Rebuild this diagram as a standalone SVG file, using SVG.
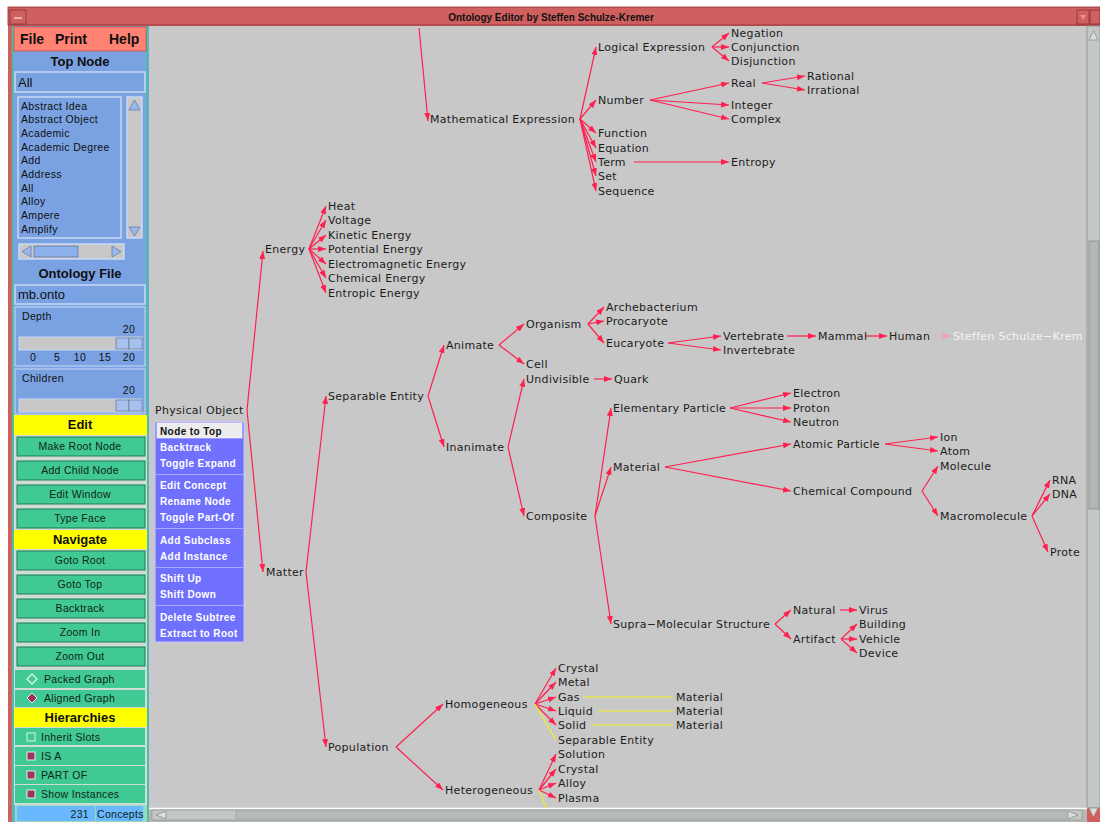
<svg xmlns="http://www.w3.org/2000/svg" width="1100" height="822" viewBox="0 0 1100 822">
  <defs>
    <style>
      .n { font-family: "DejaVu Sans", "Liberation Sans", sans-serif; font-size: 11px; fill: #1c1c1c; letter-spacing: 0.3px; }
      .nw { font-family: "DejaVu Sans", "Liberation Sans", sans-serif; font-size: 11px; fill: #f4f4f4; letter-spacing: 0.3px; }
      .e { stroke: #ff2050; stroke-width: 1.2; fill: none; marker-end: url(#ah); }
      .ef { stroke: #f0a0b4; stroke-width: 1.2; fill: none; stroke-dasharray: 2 1.5; marker-end: url(#ahf); }
      .y { stroke: #f0f020; stroke-width: 1.2; fill: none; }
      .ui { font-family: "Liberation Sans", Arial, sans-serif; fill: #101010; }
      .hd { font-family: "Liberation Sans", Arial, sans-serif; font-weight: bold; font-size: 13px; fill: #101010; text-anchor: middle; }
      .btn { fill: #40c992; stroke: #1f7a55; stroke-width: 1; }
      .bt { font-family: "Liberation Sans", Arial, sans-serif; font-size: 10.5px; fill: #102418; text-anchor: middle; letter-spacing: 0.3px; }
      .bl { font-family: "Liberation Sans", Arial, sans-serif; font-size: 10.5px; fill: #102418; letter-spacing: 0.3px; }
      .li { font-family: "Liberation Sans", Arial, sans-serif; font-size: 10.5px; fill: #101010; letter-spacing: 0.35px; }
      .pm { font-family: "Liberation Sans", Arial, sans-serif; font-size: 10px; font-weight: bold; fill: #ffffff; letter-spacing: 0.4px; }
      .fld { fill: #7aa2e2; stroke: #c8d8f4; stroke-width: 1.5; }
      .sep { stroke: #a8a8ff; stroke-width: 1; }
    </style>
    <marker id="ah" viewBox="0 0 8 6" refX="8" refY="3" markerWidth="8" markerHeight="6" markerUnits="userSpaceOnUse" orient="auto">
      <path d="M0,0 L8,3 L0,6 z" fill="#ff2050"/>
    </marker>
    <marker id="ahf" viewBox="0 0 8 6" refX="8" refY="3" markerWidth="8" markerHeight="6" markerUnits="userSpaceOnUse" orient="auto">
      <path d="M0,0 L8,3 L0,6 z" fill="#f0a0b4"/>
    </marker>
  </defs>

  <!-- window frame -->
  <rect x="0" y="0" width="1100" height="822" fill="#ffffff"/>
  <rect x="8" y="7" width="1092" height="815" fill="#d25e5e"/>
  <rect x="8" y="7" width="1092" height="18" fill="#d06060" stroke="#8a3030" stroke-width="0.8"/>
  <rect x="10" y="10" width="16" height="14" fill="#d06060" stroke="#8a3030" stroke-width="0.8"/>
  <line x1="14" y1="18" x2="22" y2="18" stroke="#ffffff" stroke-width="1"/>
  <rect x="1077" y="10" width="12" height="14" fill="#d06060" stroke="#8a3030" stroke-width="0.8"/>
  <path d="M1080,15 L1086,15 L1083,20 z" fill="#e89090"/>
  <rect x="1090" y="10" width="10" height="14" fill="#d06060" stroke="#8a3030" stroke-width="0.8"/>
  <text x="551" y="20.5" text-anchor="middle" style="font-family:'Liberation Sans',Arial,sans-serif;font-size:10px;font-weight:bold;fill:#101010">Ontology Editor by Steffen Schulze-Kremer</text>

  <!-- canvas -->
  <rect x="149" y="26" width="938" height="782" fill="#c8c8c8"/>

  <!-- right scrollbar -->
  <rect x="1087" y="26" width="13" height="782" fill="#c4c8c4" stroke="#8c908c" stroke-width="0.8"/>
  <path d="M1089,40 L1093.5,31 L1098,40 z" fill="#dcdedc" stroke="#8c908c" stroke-width="0.8"/>
  <rect x="1089" y="241" width="10" height="268" fill="#b4b8b4" stroke="#8c908c" stroke-width="0.8"/>
  <path d="M1089,808 L1093.5,817 L1098,808 z" fill="#dcdedc" stroke="#8c908c" stroke-width="0.8"/>

  <!-- bottom scrollbar -->
  <rect x="149" y="808" width="938" height="14" fill="#b4b8b4"/>
  <line x1="149" y1="808.5" x2="1087" y2="808.5" stroke="#ffffff" stroke-width="1.5"/>
  <rect x="152" y="810" width="930" height="10" fill="#c4c8c4" stroke="#8c908c" stroke-width="0.6"/>
  <path d="M166,811 L156,815 L166,819 z" fill="#dcdedc" stroke="#8c908c" stroke-width="0.8"/>
  <rect x="236" y="811" width="830" height="8" fill="#b8bcb8" stroke="#9ca09c" stroke-width="0.6"/>
  <path d="M1068,811 L1078,815 L1068,819 z" fill="#dcdedc" stroke="#8c908c" stroke-width="0.8"/>

  <!-- control panel -->
  <g id="panel">
    <rect x="12" y="26" width="137" height="796" fill="#7aa2e2"/>
    <line x1="12.5" y1="26" x2="12.5" y2="822" stroke="#38c890" stroke-width="1.5"/>
    <line x1="147.5" y1="26" x2="147.5" y2="822" stroke="#38c890" stroke-width="1.5"/>

    <g id="menubar">
      <rect x="14" y="27" width="132" height="24" fill="#ff8272" stroke="#c85048" stroke-width="0.8"/>
      <text class="ui" x="20" y="44" style="font-size:14px;font-weight:bold">File</text>
      <text class="ui" x="55" y="44" style="font-size:14px;font-weight:bold">Print</text>
      <text class="ui" x="109" y="44" style="font-size:14px;font-weight:bold">Help</text>
    </g>

    <text class="hd" x="80" y="66">Top Node</text>
    <rect class="fld" x="15" y="72" width="130" height="20"/>
    <text class="ui" x="18" y="87" style="font-size:13px">All</text>

    <g id="concept-list">
      <rect x="18" y="97" width="103" height="141" fill="#7aa2e2" stroke="#c8d8f4" stroke-width="1.5"/>
      <text class="li" x="21" y="109.5">Abstract Idea</text>
      <text class="li" x="21" y="123">Abstract Object</text>
      <text class="li" x="21" y="136.5">Academic</text>
      <text class="li" x="21" y="150.5">Academic Degree</text>
      <text class="li" x="21" y="164">Add</text>
      <text class="li" x="21" y="177.5">Address</text>
      <text class="li" x="21" y="191.5">All</text>
      <text class="li" x="21" y="205">Alloy</text>
      <text class="li" x="21" y="218.5">Ampere</text>
      <text class="li" x="21" y="232.5">Amplify</text>
      <rect x="127" y="97" width="15" height="141" fill="#c8c8c8" stroke="#c8d8f4" stroke-width="1.5"/>
      <path d="M129,110 L134.5,100 L140,110 z" fill="#9ab8ee" stroke="#506890" stroke-width="0.6"/>
      <path d="M129,227 L134.5,236 L140,227 z" fill="#9ab8ee" stroke="#506890" stroke-width="0.6"/>
      <rect x="19" y="244" width="105" height="15" fill="#c8c8c8" stroke="#c8d8f4" stroke-width="1.5"/>
      <path d="M31,246 L22,251.5 L31,257 z" fill="#9ab8ee" stroke="#506890" stroke-width="0.6"/>
      <rect x="34" y="246" width="44" height="11" fill="#8cb0ea" stroke="#506890" stroke-width="0.6"/>
      <path d="M112,246 L121,251.5 L112,257 z" fill="#9ab8ee" stroke="#506890" stroke-width="0.6"/>
    </g>

    <text class="hd" x="80" y="278">Ontology File</text>
    <rect class="fld" x="15" y="285" width="130" height="19"/>
    <text class="ui" x="18" y="299" style="font-size:13px">mb.onto</text>

    <g id="depth">
      <rect x="15" y="307" width="130" height="59" fill="#7aa2e2" stroke="#c8d8f4" stroke-width="1"/>
      <text class="li" x="22" y="320">Depth</text>
      <text class="li" x="129" y="333" text-anchor="middle">20</text>
      <rect x="19" y="337" width="123" height="13" fill="#c8c8c8" stroke="#c8d8f4" stroke-width="1"/>
      <rect x="116" y="338" width="13" height="11" fill="#a8c0ec" stroke="#506890" stroke-width="0.6"/>
      <rect x="129" y="338" width="13" height="11" fill="#a8c0ec" stroke="#506890" stroke-width="0.6"/>
      <text class="li" x="33" y="361" text-anchor="middle">0</text>
      <text class="li" x="57" y="361" text-anchor="middle">5</text>
      <text class="li" x="80" y="361" text-anchor="middle">10</text>
      <text class="li" x="105" y="361" text-anchor="middle">15</text>
      <text class="li" x="129" y="361" text-anchor="middle">20</text>
    </g>

    <g id="children">
      <rect x="15" y="369" width="130" height="45" fill="#7aa2e2" stroke="#c8d8f4" stroke-width="1"/>
      <text class="li" x="22" y="382">Children</text>
      <text class="li" x="129" y="394" text-anchor="middle">20</text>
      <rect x="19" y="399" width="123" height="13" fill="#c8c8c8" stroke="#c8d8f4" stroke-width="1"/>
      <rect x="116" y="400" width="13" height="11" fill="#a8c0ec" stroke="#506890" stroke-width="0.6"/>
      <rect x="129" y="400" width="13" height="11" fill="#a8c0ec" stroke="#506890" stroke-width="0.6"/>
    </g>

    <!-- button area -->
    <rect x="14" y="415" width="133" height="390" fill="#d2dcd6"/>

    <rect x="14" y="415" width="133" height="20" fill="#ffff00"/>
    <text class="hd" x="80" y="429">Edit</text>
    <g id="btn-make-root"><rect class="btn" x="17" y="437" width="128" height="19"/><text class="bt" x="80" y="449.5">Make Root Node</text></g>
    <g id="btn-add-child"><rect class="btn" x="17" y="461" width="128" height="19"/><text class="bt" x="80" y="473.5">Add Child Node</text></g>
    <g id="btn-edit-window"><rect class="btn" x="17" y="485" width="128" height="19"/><text class="bt" x="80" y="497.5">Edit Window</text></g>
    <g id="btn-type-face"><rect class="btn" x="17" y="509" width="128" height="19"/><text class="bt" x="80" y="521.5">Type Face</text></g>

    <rect x="14" y="530" width="133" height="19" fill="#ffff00"/>
    <text class="hd" x="80" y="544">Navigate</text>
    <g id="btn-goto-root"><rect class="btn" x="17" y="551" width="128" height="19"/><text class="bt" x="80" y="563.5">Goto Root</text></g>
    <g id="btn-goto-top"><rect class="btn" x="17" y="575" width="128" height="19"/><text class="bt" x="80" y="587.5">Goto Top</text></g>
    <g id="btn-backtrack"><rect class="btn" x="17" y="599" width="128" height="19"/><text class="bt" x="80" y="611.5">Backtrack</text></g>
    <g id="btn-zoom-in"><rect class="btn" x="17" y="623" width="128" height="19"/><text class="bt" x="80" y="635.5">Zoom In</text></g>
    <g id="btn-zoom-out"><rect class="btn" x="17" y="647" width="128" height="19"/><text class="bt" x="80" y="659.5">Zoom Out</text></g>

    <g id="opt-packed">
      <rect x="15" y="670" width="130" height="18" fill="#40c992"/>
      <path d="M32,674 L37,679 L32,684 L27,679 z" fill="#40c992" stroke="#d8f4e8" stroke-width="1.4"/>
      <text class="bl" x="44" y="682.5">Packed Graph</text>
    </g>
    <g id="opt-aligned">
      <rect x="15" y="690" width="130" height="17" fill="#40c992"/>
      <path d="M32,693 L37,698 L32,703 L27,698 z" fill="#a03060" stroke="#d8f4e8" stroke-width="1"/>
      <text class="bl" x="44" y="702">Aligned Graph</text>
    </g>

    <rect x="14" y="708" width="133" height="19" fill="#ffff00"/>
    <text class="hd" x="80" y="722">Hierarchies</text>
    <g id="chk-inherit">
      <rect x="15" y="728" width="130" height="17" fill="#40c992"/>
      <rect x="27" y="733" width="8" height="8" fill="#40c992" stroke="#d8f4e8" stroke-width="1"/>
      <text class="bl" x="41" y="740.5">Inherit Slots</text>
    </g>
    <g id="chk-isa">
      <rect x="15" y="747" width="130" height="18" fill="#40c992"/>
      <rect x="27" y="752" width="8" height="8" fill="#a03060" stroke="#d8f4e8" stroke-width="1"/>
      <text class="bl" x="41" y="760">IS A</text>
    </g>
    <g id="chk-partof">
      <rect x="15" y="766" width="130" height="18" fill="#40c992"/>
      <rect x="27" y="771" width="8" height="8" fill="#a03060" stroke="#d8f4e8" stroke-width="1"/>
      <text class="bl" x="41" y="779">PART OF</text>
    </g>
    <g id="chk-instances">
      <rect x="15" y="785" width="130" height="18" fill="#40c992"/>
      <rect x="27" y="790" width="8" height="8" fill="#a03060" stroke="#d8f4e8" stroke-width="1"/>
      <text class="bl" x="41" y="798">Show Instances</text>
    </g>

    <g id="count">
      <rect x="15" y="805" width="132" height="17" fill="#9ad8c0"/>
      <rect x="17" y="806" width="78" height="15" fill="#6ab8ff"/>
      <text class="bl" x="89" y="817.5" text-anchor="end">231</text>
      <rect x="96" y="806" width="47" height="15" fill="#6ab8ff"/>
      <text class="bl" x="97" y="817.5">Concepts</text>
    </g>
  </g>

  <!-- connectors -->
  <g id="connectors">
    <line class="e" x1="419" y1="28" x2="428" y2="121"/>
    <line class="e" x1="247" y1="410" x2="263" y2="251"/>
    <line class="e" x1="247" y1="410" x2="263" y2="572"/>
    <!-- Energy -->
    <line class="e" x1="309" y1="249" x2="326" y2="206"/>
    <line class="e" x1="309" y1="249" x2="326" y2="220"/>
    <line class="e" x1="309" y1="249" x2="326" y2="235"/>
    <line class="e" x1="309" y1="249" x2="326" y2="249"/>
    <line class="e" x1="309" y1="249" x2="326" y2="264"/>
    <line class="e" x1="309" y1="249" x2="326" y2="278"/>
    <line class="e" x1="309" y1="249" x2="326" y2="293"/>
    <!-- Mathematical Expression -->
    <line class="e" x1="580" y1="119" x2="596" y2="47"/>
    <line class="e" x1="580" y1="119" x2="596" y2="100"/>
    <line class="e" x1="580" y1="119" x2="596" y2="133"/>
    <line class="e" x1="580" y1="119" x2="596" y2="148"/>
    <line class="e" x1="580" y1="119" x2="596" y2="162"/>
    <line class="e" x1="580" y1="119" x2="596" y2="176"/>
    <line class="e" x1="580" y1="119" x2="596" y2="191"/>
    <line class="e" x1="712" y1="47" x2="729" y2="33"/>
    <line class="e" x1="712" y1="47" x2="729" y2="47"/>
    <line class="e" x1="712" y1="47" x2="729" y2="61"/>
    <line class="e" x1="650" y1="100" x2="729" y2="83"/>
    <line class="e" x1="650" y1="100" x2="729" y2="105"/>
    <line class="e" x1="650" y1="100" x2="729" y2="119"/>
    <line class="e" x1="762" y1="83" x2="805" y2="76"/>
    <line class="e" x1="762" y1="83" x2="805" y2="90"/>
    <line class="e" x1="634" y1="162" x2="729" y2="162"/>
    <!-- Matter -->
    <line class="e" x1="306" y1="572" x2="326" y2="396"/>
    <line class="e" x1="306" y1="572" x2="326" y2="747"/>
    <line class="e" x1="428" y1="396" x2="444" y2="345"/>
    <line class="e" x1="428" y1="396" x2="444" y2="447"/>
    <line class="e" x1="499" y1="345" x2="524" y2="324"/>
    <line class="e" x1="499" y1="345" x2="524" y2="364"/>
    <line class="e" x1="588" y1="324" x2="604" y2="307"/>
    <line class="e" x1="588" y1="324" x2="604" y2="321"/>
    <line class="e" x1="588" y1="324" x2="604" y2="343"/>
    <line class="e" x1="668" y1="343" x2="721" y2="336"/>
    <line class="e" x1="668" y1="343" x2="721" y2="350"/>
    <line class="e" x1="787" y1="336" x2="816" y2="336"/>
    <line class="e" x1="866" y1="336" x2="887" y2="336"/>
    <line class="ef" x1="935" y1="336" x2="951" y2="336"/>
    <line class="e" x1="508" y1="447" x2="524" y2="379"/>
    <line class="e" x1="508" y1="447" x2="524" y2="516"/>
    <line class="e" x1="594" y1="379" x2="612" y2="379"/>
    <line class="e" x1="595" y1="516" x2="611" y2="408"/>
    <line class="e" x1="595" y1="516" x2="611" y2="467"/>
    <line class="e" x1="595" y1="516" x2="611" y2="624"/>
    <line class="e" x1="730" y1="408" x2="791" y2="393"/>
    <line class="e" x1="730" y1="408" x2="791" y2="408"/>
    <line class="e" x1="730" y1="408" x2="791" y2="422"/>
    <line class="e" x1="665" y1="467" x2="791" y2="444"/>
    <line class="e" x1="665" y1="467" x2="791" y2="491"/>
    <line class="e" x1="885" y1="444" x2="938" y2="437"/>
    <line class="e" x1="885" y1="444" x2="938" y2="451"/>
    <line class="e" x1="922" y1="491" x2="938" y2="466"/>
    <line class="e" x1="922" y1="491" x2="938" y2="516"/>
    <line class="e" x1="1032" y1="516" x2="1050" y2="480"/>
    <line class="e" x1="1032" y1="516" x2="1050" y2="494"/>
    <line class="e" x1="1032" y1="516" x2="1048" y2="552"/>
    <line class="e" x1="775" y1="624" x2="791" y2="610"/>
    <line class="e" x1="775" y1="624" x2="791" y2="639"/>
    <line class="e" x1="840" y1="610" x2="857" y2="610"/>
    <line class="e" x1="841" y1="639" x2="857" y2="624"/>
    <line class="e" x1="841" y1="639" x2="857" y2="639"/>
    <line class="e" x1="841" y1="639" x2="857" y2="653"/>
    <!-- Population -->
    <line class="e" x1="396" y1="747" x2="443" y2="704"/>
    <line class="e" x1="396" y1="747" x2="443" y2="790"/>
    <line class="e" x1="535" y1="704" x2="556" y2="668"/>
    <line class="e" x1="535" y1="704" x2="556" y2="682"/>
    <line class="e" x1="535" y1="704" x2="556" y2="697"/>
    <line class="e" x1="535" y1="704" x2="556" y2="711"/>
    <line class="e" x1="535" y1="704" x2="556" y2="725"/>
    <line class="y" x1="535" y1="704" x2="556" y2="740"/>
    <line class="y" x1="583" y1="697" x2="673" y2="697"/>
    <line class="y" x1="598" y1="711" x2="673" y2="711"/>
    <line class="y" x1="591" y1="725" x2="673" y2="725"/>
    <line class="e" x1="539" y1="790" x2="556" y2="754"/>
    <line class="e" x1="539" y1="790" x2="556" y2="769"/>
    <line class="e" x1="539" y1="790" x2="556" y2="783"/>
    <line class="e" x1="539" y1="790" x2="556" y2="798"/>
    <line class="y" x1="539" y1="790" x2="546" y2="808"/>
  </g>

  <!-- concept nodes -->
  <g id="nodes">
    <g id="n-physical-object"><text class="n" x="155" y="414">Physical Object</text></g>
    <g id="n-energy"><text class="n" x="265" y="253">Energy</text></g>
    <g id="n-matter"><text class="n" x="266" y="576">Matter</text></g>
    <g id="n-heat"><text class="n" x="328" y="210">Heat</text></g>
    <g id="n-voltage"><text class="n" x="328" y="224">Voltage</text></g>
    <g id="n-kinetic"><text class="n" x="328" y="239">Kinetic Energy</text></g>
    <g id="n-potential"><text class="n" x="328" y="253">Potential Energy</text></g>
    <g id="n-electromagnetic"><text class="n" x="328" y="268">Electromagnetic Energy</text></g>
    <g id="n-chemical-energy"><text class="n" x="328" y="282">Chemical Energy</text></g>
    <g id="n-entropic"><text class="n" x="328" y="297">Entropic Energy</text></g>
    <g id="n-math"><text class="n" x="430" y="123">Mathematical Expression</text></g>
    <g id="n-logical"><text class="n" x="598" y="51">Logical Expression</text></g>
    <g id="n-number"><text class="n" x="598" y="104">Number</text></g>
    <g id="n-function"><text class="n" x="598" y="137">Function</text></g>
    <g id="n-equation"><text class="n" x="598" y="152">Equation</text></g>
    <g id="n-term"><text class="n" x="598" y="166">Term</text></g>
    <g id="n-set"><text class="n" x="598" y="180">Set</text></g>
    <g id="n-sequence"><text class="n" x="598" y="195">Sequence</text></g>
    <g id="n-negation"><text class="n" x="731" y="37">Negation</text></g>
    <g id="n-conjunction"><text class="n" x="731" y="51">Conjunction</text></g>
    <g id="n-disjunction"><text class="n" x="731" y="65">Disjunction</text></g>
    <g id="n-real"><text class="n" x="731" y="87">Real</text></g>
    <g id="n-integer"><text class="n" x="731" y="109">Integer</text></g>
    <g id="n-complex"><text class="n" x="731" y="123">Complex</text></g>
    <g id="n-rational"><text class="n" x="807" y="80">Rational</text></g>
    <g id="n-irrational"><text class="n" x="807" y="94">Irrational</text></g>
    <g id="n-entropy"><text class="n" x="731" y="166">Entropy</text></g>
    <g id="n-separable"><text class="n" x="328" y="400">Separable Entity</text></g>
    <g id="n-population"><text class="n" x="328" y="751">Population</text></g>
    <g id="n-animate"><text class="n" x="446" y="349">Animate</text></g>
    <g id="n-inanimate"><text class="n" x="446" y="451">Inanimate</text></g>
    <g id="n-organism"><text class="n" x="526" y="328">Organism</text></g>
    <g id="n-cell"><text class="n" x="526" y="368">Cell</text></g>
    <g id="n-archebacterium"><text class="n" x="606" y="311">Archebacterium</text></g>
    <g id="n-procaryote"><text class="n" x="606" y="325">Procaryote</text></g>
    <g id="n-eucaryote"><text class="n" x="606" y="347">Eucaryote</text></g>
    <g id="n-vertebrate"><text class="n" x="723" y="340">Vertebrate</text></g>
    <g id="n-invertebrate"><text class="n" x="723" y="354">Invertebrate</text></g>
    <g id="n-mammal"><text class="n" x="818" y="340">Mammal</text></g>
    <g id="n-human"><text class="n" x="889" y="340">Human</text></g>
    <g id="n-instance"><text class="nw" x="953" y="340">Steffen Schulze−Krem</text></g>
    <g id="n-undivisible"><text class="n" x="526" y="383">Undivisible</text></g>
    <g id="n-quark"><text class="n" x="614" y="383">Quark</text></g>
    <g id="n-composite"><text class="n" x="526" y="520">Composite</text></g>
    <g id="n-elementary"><text class="n" x="613" y="412">Elementary Particle</text></g>
    <g id="n-material"><text class="n" x="613" y="471">Material</text></g>
    <g id="n-supra"><text class="n" x="613" y="628">Supra−Molecular Structure</text></g>
    <g id="n-electron"><text class="n" x="793" y="397">Electron</text></g>
    <g id="n-proton"><text class="n" x="793" y="412">Proton</text></g>
    <g id="n-neutron"><text class="n" x="793" y="426">Neutron</text></g>
    <g id="n-atomic"><text class="n" x="793" y="448">Atomic Particle</text></g>
    <g id="n-compound"><text class="n" x="793" y="495">Chemical Compound</text></g>
    <g id="n-ion"><text class="n" x="940" y="441">Ion</text></g>
    <g id="n-atom"><text class="n" x="940" y="455">Atom</text></g>
    <g id="n-molecule"><text class="n" x="940" y="470">Molecule</text></g>
    <g id="n-macromolecule"><text class="n" x="940" y="520">Macromolecule</text></g>
    <g id="n-rna"><text class="n" x="1052" y="484">RNA</text></g>
    <g id="n-dna"><text class="n" x="1052" y="498">DNA</text></g>
    <g id="n-protein"><text class="n" x="1050" y="556">Prote</text></g>
    <g id="n-natural"><text class="n" x="793" y="614">Natural</text></g>
    <g id="n-artifact"><text class="n" x="793" y="643">Artifact</text></g>
    <g id="n-virus"><text class="n" x="859" y="614">Virus</text></g>
    <g id="n-building"><text class="n" x="859" y="628">Building</text></g>
    <g id="n-vehicle"><text class="n" x="859" y="643">Vehicle</text></g>
    <g id="n-device"><text class="n" x="859" y="657">Device</text></g>
    <g id="n-homogeneous"><text class="n" x="445" y="708">Homogeneous</text></g>
    <g id="n-heterogeneous"><text class="n" x="445" y="794">Heterogeneous</text></g>
    <g id="n-crystal-1"><text class="n" x="558" y="672">Crystal</text></g>
    <g id="n-metal"><text class="n" x="558" y="686">Metal</text></g>
    <g id="n-gas"><text class="n" x="558" y="701">Gas</text></g>
    <g id="n-liquid"><text class="n" x="558" y="715">Liquid</text></g>
    <g id="n-solid"><text class="n" x="558" y="729">Solid</text></g>
    <g id="n-separable-2"><text class="n" x="558" y="744">Separable Entity</text></g>
    <g id="n-material-gas"><text class="n" x="676" y="701">Material</text></g>
    <g id="n-material-liquid"><text class="n" x="676" y="715">Material</text></g>
    <g id="n-material-solid"><text class="n" x="676" y="729">Material</text></g>
    <g id="n-solution"><text class="n" x="558" y="758">Solution</text></g>
    <g id="n-crystal-2"><text class="n" x="558" y="773">Crystal</text></g>
    <g id="n-alloy"><text class="n" x="558" y="787">Alloy</text></g>
    <g id="n-plasma"><text class="n" x="558" y="802">Plasma</text></g>
  </g>

  <!-- node context menu -->
  <g id="context-menu">
    <rect x="155" y="422" width="89" height="220" fill="#7070ff" stroke="#c8c8ff" stroke-width="1"/>
    <rect x="157" y="423" width="85" height="15" fill="#ececec" stroke="#ffffff" stroke-width="0.6"/>
    <text x="160" y="434.5" style="font-family:'Liberation Sans',Arial,sans-serif;font-size:10px;font-weight:bold;fill:#101010;letter-spacing:0.4px">Node to Top</text>
    <text class="pm" x="160" y="450.5">Backtrack</text>
    <text class="pm" x="160" y="466.5">Toggle Expand</text>
    <line class="sep" x1="156" y1="474.5" x2="243" y2="474.5"/>
    <text class="pm" x="160" y="488.5">Edit Concept</text>
    <text class="pm" x="160" y="504.5">Rename Node</text>
    <text class="pm" x="160" y="520.5">Toggle Part-Of</text>
    <line class="sep" x1="156" y1="528.5" x2="243" y2="528.5"/>
    <text class="pm" x="160" y="543.5">Add Subclass</text>
    <text class="pm" x="160" y="559.5">Add Instance</text>
    <line class="sep" x1="156" y1="567.5" x2="243" y2="567.5"/>
    <text class="pm" x="160" y="581.5">Shift Up</text>
    <text class="pm" x="160" y="597.5">Shift Down</text>
    <line class="sep" x1="156" y1="605.5" x2="243" y2="605.5"/>
    <text class="pm" x="160" y="620.5">Delete Subtree</text>
    <text class="pm" x="160" y="636.5">Extract to Root</text>
  </g>
</svg>
